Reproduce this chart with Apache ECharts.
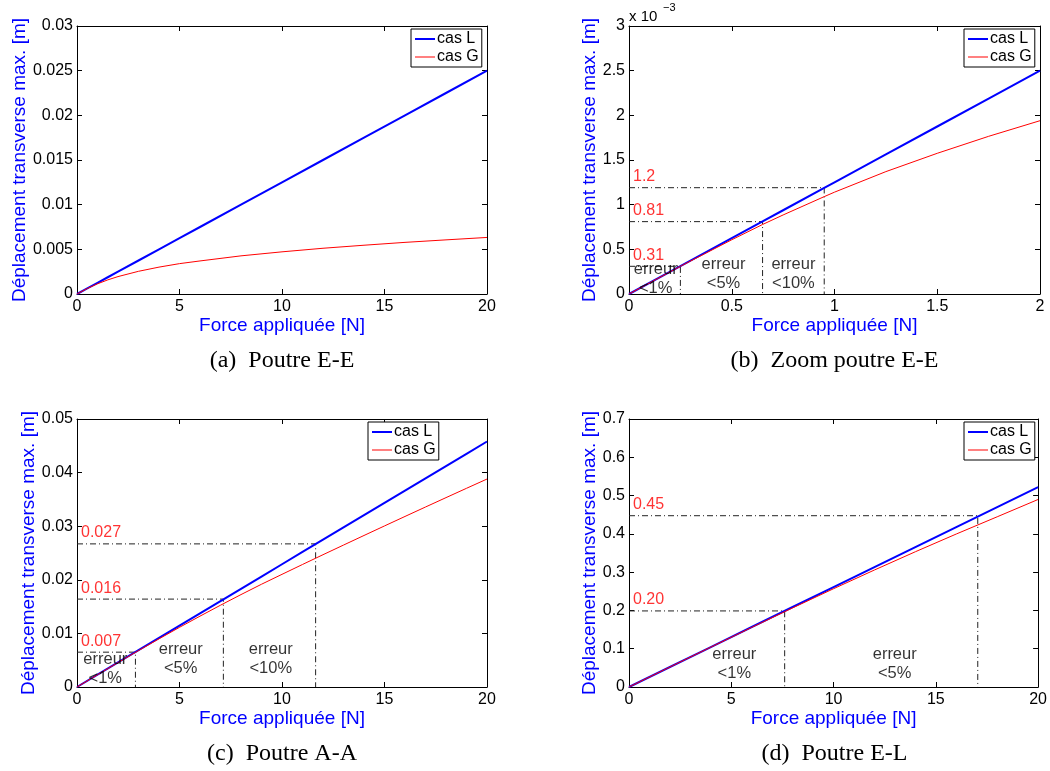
<!DOCTYPE html>
<html><head><meta charset="utf-8">
<script src="https://cdn.jsdelivr.net/npm/echarts@6/dist/echarts.min.js"></script>
<style>html,body{margin:0;padding:0;background:#fff}#c{width:1050px;height:771px}</style>
</head><body><div id="c"></div>
<script>
// ---- data ----
// (a) Poutre E-E
const aForce = [0,0.5,1,1.5,2,3,4,5,6,8,10,12,14,16,18,20];
const aL = [0,0.000625,0.00125,0.001875,0.0025,0.00375,0.005,0.00625,0.0075,0.01,0.0125,0.015,0.0175,0.02,0.0225,0.025];
const aG = [0,0.00061,0.00114,0.00158,0.00195,0.00254,0.00301,0.0034,0.0037,0.00427,0.00472,0.00512,0.00546,0.00578,0.00606,0.00633];
// (b) Zoom poutre E-E
const bForce = [0,0.25,0.5,0.65,0.75,0.95,1,1.25,1.5,1.75,2];
const bL = [0,0.0003125,0.000625,0.0008125,0.0009375,0.0011875,0.00125,0.0015625,0.001875,0.0021875,0.0025];
const bG = [0,0.00031,0.000607,0.000778,0.000885,0.00109,0.00114,0.00137,0.001575,0.001765,0.00194];
const bThrX = [0.25,0.65,0.95];
const bThrY = [0.00031,0.00081,0.00119];
const bThrLabel = ['0.31','0.81','1.2'];
const bErrText = ['erreur\n<1%','erreur\n<5%','erreur\n<10%'];
// (c) Poutre A-A
const cForce = [0,1,2,3,4,5,6,7,8,9,10,11,12,13,14,15,16,17,18,19,20];
const cL = [0,0.00229,0.00458,0.00687,0.00916,0.01145,0.01374,0.01603,0.01832,0.02061,0.0229,0.02519,0.02748,0.02977,0.03206,0.03435,0.03664,0.03893,0.04122,0.04351,0.0458];
const cG = [0,0.002287,0.004557,0.006794,0.008986,0.01113,0.01322,0.01526,0.01724,0.01917,0.02102,0.02286,0.02468,0.02648,0.02827,0.03005,0.03182,0.03358,0.03533,0.03707,0.0388];
const cThrX = [2.85,7.14,11.64];
const cThrY = [0.0065,0.0164,0.0267];
const cThrLabel = ['0.007','0.016','0.027'];
const cErrText = ['erreur\n<1%','erreur\n<5%','erreur\n<10%'];
// (d) Poutre E-L
const dForce = [0,2,4,6,8,10,12,14,16,18,20];
const dL = [0,0.0522,0.1044,0.1567,0.2089,0.2611,0.3133,0.3655,0.4178,0.47,0.5222];
const dG = [0,0.0522,0.1041,0.1557,0.2066,0.2567,0.3056,0.3533,0.3996,0.4446,0.4898];
const dThrX = [7.61,17.05];
const dThrY = [0.1987,0.4474];
const dThrLabel = ['0.20','0.45'];
const dErrText = ['erreur\n<1%','erreur\n<5%'];
// axis ticks
const xTicksA = {min:0,max:20,interval:5};
const xTicksB = {min:0,max:2,interval:0.5};
const yTicksA = {min:0,max:0.03,interval:0.005};
const yTicksB = {min:0,max:0.003,interval:0.0005};
const yTicksC = {min:0,max:0.05,interval:0.01};
const yTicksD = {min:0,max:0.7,interval:0.1};
const captions = ['(a)\u2002Poutre E-E','(b)\u2002Zoom poutre E-E','(c)\u2002Poutre A-A','(d)\u2002Poutre E-L'];

// ---- layout / style ----
const FONT = '"Liberation Sans", Arial, sans-serif';
const grids = [
  {left:77, top:26, width:410, height:268},
  {left:629, top:26, width:411, height:268},
  {left:77, top:419, width:410, height:268},
  {left:629, top:419, width:411, height:268}
];
const yNameGap = [48, 29, 39, 29];
const legendPos = [[411,29],[964,29],[368,422],[964,422]];
const xT = [xTicksA, xTicksB, xTicksA, xTicksA];
const yT = [yTicksA, yTicksB, yTicksC, yTicksD];

const xAxes = [], yAxes = [];
for (let i = 0; i < 4; i++) {
  const base = {gridIndex:i, type:'value', splitLine:{show:false},
    axisLine:{show:true, onZero:false, lineStyle:{color:'#000', width:1}},
    axisTick:{show:true, inside:true, length:5, lineStyle:{color:'#000'}}};
  xAxes.push(Object.assign({}, base, xT[i], {position:'bottom',
    axisLabel:{color:'#000', fontSize:16, fontFamily:FONT, margin:5},
    name:'Force appliquée [N]', nameLocation:'middle', nameGap:19,
    nameTextStyle:{color:'#0000ff', fontSize:19, fontFamily:FONT}}));
  yAxes.push(Object.assign({}, base, yT[i], {position:'left',
    axisLabel:{color:'#000', fontSize:16, fontFamily:FONT, margin:4,
      formatter: i===1 ? (v => String(+(v*1000).toFixed(2))) : undefined},
    name:'Déplacement transverse max. [m]', nameLocation:'middle', nameGap:yNameGap[i],
    nameTextStyle:{color:'#0000ff', fontSize:19, fontFamily:FONT}}));
}
for (let i = 0; i < 4; i++) {
  const base = {gridIndex:i, type:'value', splitLine:{show:false}, axisLabel:{show:false},
    axisLine:{show:true, onZero:false, lineStyle:{color:'#000', width:1}},
    axisTick:{show:true, inside:true, length:5, lineStyle:{color:'#000'}}};
  xAxes.push(Object.assign({}, base, xT[i], {position:'top'}));
  yAxes.push(Object.assign({}, base, yT[i], {position:'right'}));
}

const zip = (xs, ys) => xs.map((x, k) => [x, ys[k]]);
const series = [];
const sets = [[aForce,aL,aG],[bForce,bL,bG],[cForce,cL,cG],[dForce,dL,dG]];
sets.forEach((s, i) => {
  series.push({type:'line', name:'cas L', xAxisIndex:i, yAxisIndex:i, data:zip(s[0], s[1]),
    symbol:'none', lineStyle:{color:'#0000ff', width:2}, itemStyle:{color:'#0000ff'}, z:3});
  series.push({type:'line', name:'cas G', xAxisIndex:i, yAxisIndex:i, data:zip(s[0], s[2]),
    symbol:'none', lineStyle:{color:'#ff0000', width:1}, itemStyle:{color:'#ff0000'}, z:4});
});

// annotations
const ann = [
  {g:1, xs:bThrX, ys:bThrY, labels:bThrLabel, texts:bErrText, textX:[0.13,0.46,0.8], textBottom:[-3.5,1.5,1.5]},
  {g:2, xs:cThrX, ys:cThrY, labels:cThrLabel, texts:cErrText, textX:[1.38,5.06,9.45], textBottom:[-0.5,9.5,9.5]},
  {g:3, xs:dThrX, ys:dThrY, labels:dThrLabel, texts:dErrText, textX:[5.15,12.99], textBottom:[4.5,4.5]}
];
ann.forEach(a => {
  a.xs.forEach((x, k) => {
    const y = a.ys[k];
    series.push({type:'line', xAxisIndex:a.g, yAxisIndex:a.g, data:[[0,y],[x,y],[x,0]],
      symbol:'none', silent:true, z:2,
      lineStyle:{color:'#222', width:1, type:[6,3,1,3]}});
    series.push({type:'scatter', xAxisIndex:a.g, yAxisIndex:a.g, data:[[0,y]],
      symbolSize:0, silent:true, z:5, clip:false,
      label:{show:true, position:'right', distance:4, offset:[0,-11],
        formatter:a.labels[k], color:'#ff0000', fontSize:16, fontFamily:FONT}});
  });
  a.texts.forEach((t, k) => {
    series.push({type:'scatter', xAxisIndex:a.g, yAxisIndex:a.g, data:[[a.textX[k],0]],
      symbolSize:0, silent:true, z:6, clip:false,
      label:{show:true, position:'top', distance:0, offset:[0,-a.textBottom[k]],
        formatter:t, color:'#000', fontSize:16.5, lineHeight:19, fontFamily:FONT, align:'center'}});
  });
});

const legends = legendPos.map(p => ({
  left:p[0], top:p[1], orient:'vertical',
  data:[{name:'cas L', icon:'path://M0,0h20v2h-20z'}, {name:'cas G', icon:'path://M0,0h20v1h-20z'}],
  borderColor:'#000', borderWidth:1, backgroundColor:'#fff', borderRadius:0,
  padding:[2,3,2,4], itemGap:2, itemWidth:20, itemHeight:14,
  textStyle:{color:'#000', fontSize:16, fontFamily:FONT, padding:[0,0,0,-3]},
  selectedMode:false
}));

const graphic = [];
captions.forEach((c, i) => {
  const g = grids[i];
  graphic.push({type:'text', x:g.left+g.width/2, y:(i<2?361:754), style:{text:c,
    textAlign:'center', textVerticalAlign:'middle', fill:'#000', fontSize:24,
    fontFamily:'"Liberation Serif", "Times New Roman", serif'}});
});
graphic.push({type:'text', x:629, y:17, style:{text:'x 10', textAlign:'left', textVerticalAlign:'middle', fill:'#000', fontSize:15, fontFamily:FONT}});
graphic.push({type:'text', x:663, y:8, style:{text:'\u22123', textAlign:'left', textVerticalAlign:'middle', fill:'#000', fontSize:11, fontFamily:FONT}});

const chart = echarts.init(document.getElementById('c'), null, {renderer:'canvas'});
chart.setOption({
  animation:false,
  backgroundColor:'#fff',
  grid:grids,
  xAxis:xAxes,
  yAxis:yAxes,
  legend:legends,
  series:series,
  graphic:graphic
});
</script></body></html>
